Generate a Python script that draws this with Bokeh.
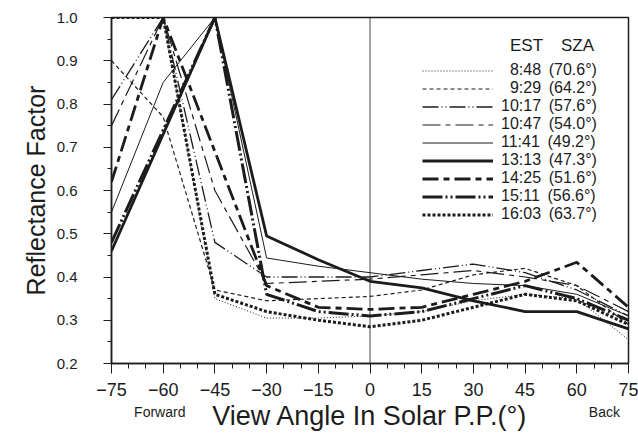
from bokeh.plotting import figure
from bokeh.models import Legend, LegendItem, Label, Span, FixedTicker, Range1d, LinearAxis
from bokeh.embed import file_html
from bokeh.resources import INLINE

# View angle in the solar principal plane (degrees), negative = forward
view_angle = [-75, -60, -45, -30, -15, 0, 15, 30, 45, 60, 75]

# Local time of each scan and the solar zenith angle at that time
est = ["8:48", "9:29", "10:17", "10:47", "11:41", "13:13", "14:25", "15:11", "16:03"]
sza = ["70.6", "64.2", "57.6", "54.0", "49.2", "47.3", "51.6", "56.6", "63.7"]

# Reflectance factor for each scan
rf_0848 = [1.00, 1.00, 0.35, 0.305, 0.305, 0.31, 0.32, 0.345, 0.36, 0.35, 0.255]
rf_0929 = [0.90, 0.77, 0.37, 0.345, 0.35, 0.355, 0.37, 0.405, 0.42, 0.38, 0.29]
rf_1017 = [0.81, 1.00, 0.48, 0.40, 0.40, 0.40, 0.415, 0.43, 0.41, 0.37, 0.31]
rf_1047 = [0.75, 1.00, 0.60, 0.385, 0.39, 0.395, 0.405, 0.415, 0.40, 0.38, 0.32]
rf_1141 = [0.55, 0.85, 1.00, 0.444, 0.425, 0.41, 0.395, 0.385, 0.38, 0.36, 0.31]
rf_1313 = [0.46, 0.73, 1.00, 0.495, 0.44, 0.39, 0.375, 0.345, 0.32, 0.32, 0.28]
rf_1425 = [0.62, 1.00, 0.69, 0.38, 0.33, 0.325, 0.33, 0.36, 0.39, 0.434, 0.33]
rf_1511 = [0.48, 0.74, 1.00, 0.36, 0.32, 0.31, 0.32, 0.35, 0.38, 0.35, 0.30]
rf_1603 = [1.00, 1.00, 0.36, 0.32, 0.30, 0.285, 0.30, 0.33, 0.36, 0.345, 0.29]

series = [rf_0848, rf_0929, rf_1017, rf_1047, rf_1141, rf_1313, rf_1425, rf_1511, rf_1603]

# Direction captions under the view-angle axis
direction_pos = [-61, 68]
direction_text = ["Forward", "Back"]

# (line width, dash pattern) per scan
styles = [
    (1.0, "1 2"),
    (1.2, "4 3"),
    (1.3, "16 3 1 3 1 3"),
    (1.2, "18 5 5 5"),
    (1.0, "solid"),
    (2.8, "solid"),
    (2.8, "16 5 6 5"),
    (3.0, "20 3 2 3 2 3"),
    (3.0, "3 2"),
]

INK = "#1c1c1c"
FONT = "Liberation Sans"

p = figure(width=638, height=443, output_backend="svg", toolbar_location=None,
           x_range=Range1d(-75, 75), y_range=Range1d(0.2, 1.0),
           min_border_left=111, min_border_right=10, min_border_top=17, min_border_bottom=80)
p.background_fill_color = "white"
p.border_fill_color = "white"
p.outline_line_color = INK
p.outline_line_width = 1.5
p.xgrid.visible = False
p.ygrid.visible = False

for ax in (p.xaxis[0], p.yaxis[0]):
    ax.axis_line_color = INK
    ax.axis_line_width = 1.5
    ax.major_tick_line_color = INK
    ax.minor_tick_line_color = INK
    ax.major_tick_in = 0
    ax.minor_tick_in = 0
    ax.major_label_text_font = FONT
    ax.major_label_text_color = INK
    ax.axis_label_text_font = FONT
    ax.axis_label_text_color = INK
    ax.axis_label_text_font_style = "normal"

p.xaxis.ticker = FixedTicker(ticks=view_angle, minor_ticks=list(range(-75, 76, 5)))
p.xaxis.major_tick_out = 10
p.xaxis.minor_tick_out = 5
p.xaxis.major_label_standoff = 9
p.xaxis.major_label_text_font_size = "18px"
p.xaxis.axis_label = "View Angle In Solar P.P.(°)"
p.xaxis.axis_label_text_font_size = "27px"
p.xaxis.axis_label_standoff = 2

# Secondary bottom axis carrying only the Forward / Back captions
dir_axis = LinearAxis(ticker=FixedTicker(ticks=direction_pos, minor_ticks=[]),
                      major_label_overrides=dict(zip(direction_pos, direction_text)),
                      axis_line_color=None, major_tick_line_color=None,
                      minor_tick_line_color=None, major_label_standoff=-36,
                      major_label_text_font=FONT, major_label_text_font_size="14px",
                      major_label_text_color=INK)
p.add_layout(dir_axis, "below")

y_ticks = [0.2, 0.3, 0.4, 0.5, 0.6, 0.7, 0.8, 0.9, 1.0]
p.yaxis.ticker = FixedTicker(ticks=y_ticks, minor_ticks=[0.2 + 0.05 * i for i in range(17)])
p.yaxis.major_label_overrides = {t: f"{t:.1f}" for t in y_ticks}
p.yaxis.major_tick_out = 8
p.yaxis.minor_tick_out = 4
p.yaxis.major_label_standoff = 26
p.yaxis.major_label_text_font_size = "15px"
p.yaxis.axis_label = "Reflectance Factor"
p.yaxis.axis_label_text_font_size = "25px"
p.yaxis.axis_label_standoff = 4

# Nadir reference line
p.add_layout(Span(location=0, dimension="height", line_color=INK, line_width=0.8))

items = []
for t, z, rf, (w, dash) in zip(est, sza, series, styles):
    r = p.line(view_angle, rf, line_color=INK, line_width=w, line_dash=dash)
    pad = "  " if len(t) == 4 else ""
    items.append(LegendItem(label=f"{pad}{t} \u2009({z}°)", renderers=[r]))

legend = Legend(items=items, location=(311, 140), orientation="vertical",
                glyph_width=71, glyph_height=17, label_height=17, spacing=0,
                padding=0, margin=0, label_standoff=8,
                label_text_font=FONT, label_text_font_size="16px", label_text_color=INK,
                border_line_alpha=0, background_fill_alpha=0)
p.add_layout(legend)

p.add_layout(Label(x=45.4, y=0.935, text="EST", text_font=FONT, text_font_size="17px",
                   text_color=INK, text_align="center", text_baseline="middle"))
p.add_layout(Label(x=60.2, y=0.935, text="SZA", text_font=FONT, text_font_size="17px",
                   text_color=INK, text_align="center", text_baseline="middle"))

open("out.html", "w").write(file_html(p, INLINE))
